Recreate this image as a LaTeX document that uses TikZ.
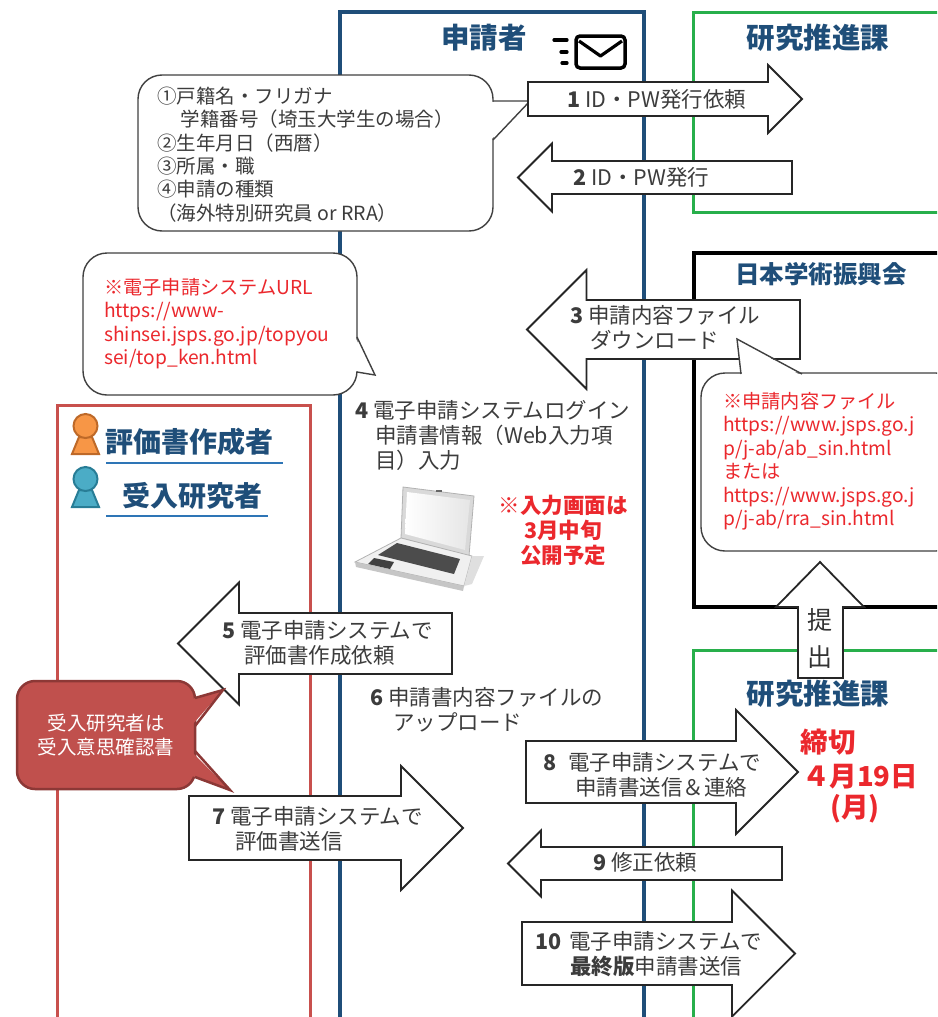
\documentclass[tikz,border=0pt]{standalone}
\usepackage{fontspec}
\setmainfont{Noto Sans CJK JP}
\usepackage{tikz}
\usetikzlibrary{calc}
\usetikzlibrary{arrows,shapes,positioning}
\tikzset{>=stealth}

\definecolor{laneblue}{RGB}{31,78,121}
\definecolor{lanegreen}{RGB}{40,175,75}
\definecolor{lanered}{RGB}{200,80,77}
\definecolor{txtgray}{RGB}{60,60,60}
\definecolor{notered}{RGB}{235,40,45}
\definecolor{boxred}{RGB}{192,80,77}
\definecolor{boxredline}{RGB}{140,56,54}
\definecolor{lineblue}{RGB}{46,117,182}
\definecolor{persorange}{RGB}{247,150,70}
\definecolor{persorangeline}{RGB}{190,105,40}
\definecolor{persteal}{RGB}{75,172,198}
\definecolor{perstealline}{RGB}{40,125,150}

\tikzset{
  lane/.style={line width=3pt},
  lanetitle/.style={font=\fontsize{28.5}{30}\selectfont\bfseries, text=laneblue, inner sep=0},
  blockarrow/.style={draw=black!85, line width=1.8pt, fill=white, line join=miter},
  steptext/.style={font=\fontsize{21.5}{25}\selectfont, text=txtgray, align=left, inner sep=0, anchor=west},
  bubble/.style={draw=black!75, line width=1.4pt, fill=white, rounded corners=24pt},
  bubbletip/.style={draw=black!75, line width=1.4pt, line join=miter},
  notetext/.style={font=\fontsize{19.2}{23.5}\selectfont, text=notered, align=left, inner sep=0, anchor=west},
  infotext/.style={font=\fontsize{19.5}{23.3}\selectfont, text=txtgray, align=left, inner sep=0, anchor=west},
  deadline/.style={font=\fontsize{27.5}{34}\selectfont\bfseries, text=notered, inner sep=0},
  personlabel/.style={font=\fontsize{28}{30}\selectfont\bfseries, text=laneblue, inner sep=0, anchor=west},
}
% block arrows: body end x, tip x, mid y, half body, half head
\newcommand{\rblock}[5]{\draw[blockarrow] (#1,#3-#4) -- (#2-#5,#3-#4) -- (#2-#5,#3-#5) -- (#2,#3) -- (#2-#5,#3+#5) -- (#2-#5,#3+#4) -- (#1,#3+#4) -- cycle;}
\newcommand{\lblock}[5]{\draw[blockarrow] (#1,#3-#4) -- (#2+#5,#3-#4) -- (#2+#5,#3-#5) -- (#2,#3) -- (#2+#5,#3+#5) -- (#2+#5,#3+#4) -- (#1,#3+#4) -- cycle;}

\begin{document}
\begin{tikzpicture}[x=1pt, y=-1pt]
  \useasboundingbox (0,0) rectangle (937,1017);
  \clip (0,0) rectangle (937,1017);

  % lanes
  \draw[lane, laneblue, line width=3.2pt] (340,1030) -- (340,12) -- (644,12) -- (644,1030);
  \draw[lane, lanegreen] (950,12) -- (693,12) -- (693,212) -- (950,212);
  \draw[lane, black, line width=3.3pt] (950,253) -- (694,253) -- (694,607) -- (950,607);
  \draw[lane, lanegreen] (950,650) -- (693,650) -- (693,1030);
  \draw[lane, lanered] (57,1030) -- (57,405) -- (310,405) -- (310,1030);

  \node[lanetitle] (applicant) at (484,38) {申請者};
  \node[lanetitle] (office) at (818,38) {研究推進課};
  \node[lanetitle, font=\fontsize{24.5}{26}\selectfont\bfseries] (jsps) at (821,274) {日本学術振興会};
  \node[lanetitle] (office2) at (818,694) {研究推進課};

  % mail
  \draw[line width=3.5pt, rounded corners=4pt] (576,36) rectangle (625,68);
  \draw[line width=3.2pt, line join=round] (579,41) -- (600.5,56) -- (622,41);
  \draw[line width=3.2pt, line cap=round] (554,40) -- (567,40);
  \draw[line width=3.2pt, line cap=round] (561,52) -- (567,52);
  \draw[line width=3.2pt, line cap=round] (562,63) -- (567,63);

  % request items
  \draw[bubble] (138,75) rectangle (493,231);
  \fill[white] (491.5,102) -- (530,101) -- (491.5,139) -- cycle;
  \draw[bubbletip] (493,101) -- (530,101) -- (493,140);
  \node[infotext] (items) at (157,154.5) {①戸籍名・フリガナ\\\hspace*{1.2em}学籍番号（埼玉大学生の場合）\\②生年月日（西暦）\\③所属・職\\④申請の種類\\（海外特別研究員 or RRA）};

  \rblock{528}{802}{99}{17}{34}
  \node[steptext] (s1) at (567,99) {\textbf{1} ID・PW発行依頼};
  \lblock{792}{518}{177.5}{16.5}{34}
  \node[steptext] (s2) at (573,177.5) {\textbf{2} ID・PW発行};

  % system url
  \draw[bubble] (83,253) rectangle (357,395);
  \fill[white] (355.5,338) -- (375,375) -- (355.5,371) -- cycle;
  \draw[bubbletip] (357,337) -- (375,375) -- (357,372);
  \node[notetext] (sysurl) at (104,323.5) {※電子申請システムURL\\https://www-\\shinsei.jsps.go.jp/topyou\\sei/top\_ken.html};

  \lblock{800}{527}{329.5}{29.5}{59.5}
  \node[steptext] (s3) at (570,328) {\textbf{3} 申請内容ファイル\\\hspace*{20pt}ダウンロード};

  % file url
  \draw[bubble] (701,373) rectangle (960,551);
  \fill[white] (742,375.5) -- (737,339) -- (801,375.5) -- cycle;
  \draw[bubbletip] (741,374) -- (737,339) -- (802,374);
  \node[notetext] (fileurl) at (723,461.5) {※申請内容ファイル\\https://www.jsps.go.j\\p/j-ab/ab\_sin.html\\または\\https://www.jsps.go.j\\p/j-ab/rra\_sin.html};

  \node[steptext] (s4) at (355,435.5) {\textbf{4} 電子申請システムログイン\\\hspace*{20pt}申請書情報（Web入力項\\\hspace*{20pt}目）入力};

  % laptop
  \draw[gray!60, fill=gray!30, line width=0.8pt] (403,487) -- (474,496) -- (469,556) -- (401,538) -- cycle;
  \shade[left color=white, right color=gray!20] (407,492) -- (470,500) -- (465,550) -- (405,534) -- cycle;
  \fill[black!60] (436,490) rectangle (442,492);
  \draw[gray!60, fill=gray!12, line width=0.8pt] (401,538) -- (472,556) -- (464,586) -- (355,562) -- cycle;
  \fill[gray!45] (355,562) -- (464,586) -- (463,591) -- (356,567) -- cycle;
  \fill[black!70] (397,543) -- (460,559) -- (454,574) -- (378,555) -- cycle;
  \fill[black!75] (374,558) -- (394,562) -- (390,569) -- (368,564) -- cycle;
  \fill[gray!25] (472,556) -- (484,556) -- (472,584) -- (464,586) -- cycle;

  \node[font=\fontsize{21.5}{25}\selectfont\bfseries, text=notered, align=center, inner sep=0] (opening) at (563,530) {※入力画面は\\3月中旬\\公開予定};

  % persons
  \filldraw[fill=persorange, draw=persorangeline, line width=2pt] (79,437) -- (92,437) -- (99,454) -- (72,454) -- cycle;
  \filldraw[fill=persorange, draw=persorangeline, line width=2pt] (85.5,426) circle (12);
  \node[personlabel] (evaluator) at (105,442) {評価書作成者};
  \draw[lineblue, line width=1.5pt] (106,463) -- (283,463);
  \filldraw[fill=persteal, draw=perstealline, line width=2pt] (79,490) -- (92,490) -- (99,507) -- (72,507) -- cycle;
  \filldraw[fill=persteal, draw=perstealline, line width=2pt] (85.5,479) circle (12);
  \node[personlabel] (host) at (122,496) {受入研究者};
  \draw[lineblue, line width=1.5pt] (106,516) -- (268,516);

  \lblock{452}{178}{643.5}{30.5}{61}
  \node[steptext] (s5) at (222,642.5) {\textbf{5} 電子申請システムで\\\hspace*{22pt}評価書作成依頼};

  \node[steptext] (s6) at (370,710) {\textbf{6} 申請書内容ファイルの\\\hspace*{23pt}アップロード};

  % host note
  \draw[fill=boxred, draw=boxredline, line width=2.5pt, rounded corners=18pt] (17,681) rectangle (195,789);
  \fill[boxred] (192,699) -- (223,690) -- (192,725) -- cycle;
  \draw[boxredline, line width=2.5pt, line join=miter] (195,698) -- (223,690) -- (195,726);
  \fill[boxred] (192,752) -- (230,790) -- (192,776) -- cycle;
  \draw[boxredline, line width=2.5pt, line join=miter] (195,751) -- (230,790) -- (195,777);
  \node[font=\fontsize{19.5}{24}\selectfont, text=white, align=center, inner sep=0] (hostnote) at (106,735) {受入研究者は\\受入意思確認書};

  \rblock{189}{463}{828}{32}{62}
  \node[steptext] (s7) at (212,829) {\textbf{7} 電子申請システムで\\\hspace*{23pt}評価書送信};

  \rblock{526}{798}{772}{31}{62}
  \node[steptext] (s8) at (543,774.5) {\textbf{8}\hspace{12pt}電子申請システムで\\\hspace*{32pt}申請書送信＆連絡};

  \node[deadline] (due) at (828,742) {締切};
  \node[deadline] (duedate) at (860,777) {４月19日};
  \node[deadline] (dueday) at (855,809) {(月)};

  \lblock{782}{508}{863.5}{16.5}{33}
  \node[steptext] (s9) at (593,862) {\textbf{9} 修正依頼};

  \rblock{522}{795}{953.5}{31.5}{63}
  \node[steptext] (s10) at (535,954.5) {\textbf{10}\hspace{8pt}電子申請システムで\\\hspace*{35pt}\textbf{最終版}申請書送信};

  % submit
  \draw[blockarrow] (798,678) -- (798,607) -- (776,607) -- (820,562) -- (864,607) -- (843,607) -- (843,678) -- cycle;
  \node[font=\fontsize{25}{37}\selectfont, text=black!80, align=center, inner sep=0] (submit) at (820,638.5) {提\\出};
\end{tikzpicture}
\end{document}
